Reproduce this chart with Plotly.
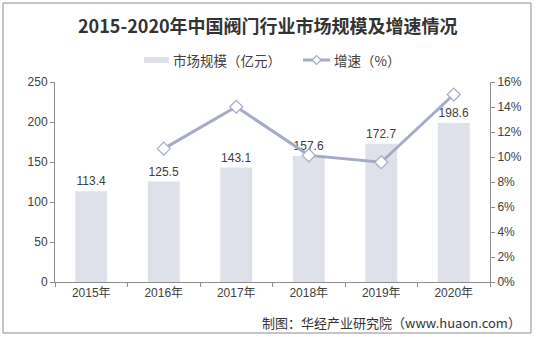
import plotly.graph_objects as go

years = ["2015年", "2016年", "2017年", "2018年", "2019年", "2020年"]
market = [113.4, 125.5, 143.1, 157.6, 172.7, 198.6]
growth_years = ["2016年", "2017年", "2018年", "2019年", "2020年"]
growth = [10.67, 14.02, 10.13, 9.58, 15.0]
y_ticks = [0, 50, 100, 150, 200, 250]
y2_ticks = [0, 2, 4, 6, 8, 10, 12, 14, 16]
y2_labels = [f"{v}%" for v in y2_ticks]

W, H = 536, 337
L, R, T, B = 55, 46, 82, 55
pw, ph = W - L - R, H - T - B

def px(x):
    return (x - L) / pw

def py(y):
    return (H - B - y) / ph

font_main = "Noto Sans CJK SC, Arial, sans-serif"
bar_color = "#DEE1EA"
line_color = "#A5ABC6"

fig = go.Figure()
fig.add_trace(go.Bar(
    x=years, y=market, name="市场规模（亿元）",
    marker=dict(color=bar_color, line=dict(width=0)),
    text=[f"{v:.1f}" for v in market], textposition="outside",
    textfont=dict(size=12, color="#404040", family="Arial, sans-serif"),
    cliponaxis=False,
))
fig.add_trace(go.Scatter(
    x=growth_years, y=growth, name="增速（%）", yaxis="y2",
    mode="lines+markers",
    line=dict(color=line_color, width=3),
    marker=dict(symbol="diamond", size=10, color="white",
                line=dict(color=line_color, width=1.2)),
    cliponaxis=False,
))

fig.update_layout(
    width=W, height=H,
    margin=dict(l=L, r=R, t=T, b=B),
    paper_bgcolor="white", plot_bgcolor="white",
    bargap=0.56,
    showlegend=False,
    xaxis=dict(showline=True, linecolor="#8C8C8C", linewidth=1,
               ticks="outside", ticklen=4, tickcolor="#8C8C8C",
               tickson="boundaries",
               tickfont=dict(size=12, color="#404040", family="Arial, " + font_main),
               showgrid=False, zeroline=False),
    yaxis=dict(range=[0, 250], tickvals=y_ticks, showline=True, linecolor="#8C8C8C",
               linewidth=1, ticks="outside", ticklen=4, tickcolor="#8C8C8C",
               tickfont=dict(size=12, color="#404040", family="Arial, sans-serif"),
               showgrid=False, zeroline=False),
    yaxis2=dict(range=[0, 16], tickvals=y2_ticks, ticktext=y2_labels, overlaying="y",
                side="right", showline=True, linecolor="#8C8C8C", linewidth=1,
                ticks="outside", ticklen=4, tickcolor="#8C8C8C",
                tickfont=dict(size=12, color="#404040", family="Arial, sans-serif"),
                showgrid=False, zeroline=False),
)

fig.add_annotation(text="<b>2015-2020年中国阀门行业市场规模及增速情况</b>",
                   xref="paper", yref="paper", x=px(268), y=py(25),
                   xanchor="center", yanchor="middle", showarrow=False,
                   font=dict(size=18, color="#333333", family=font_main))

# legend (manual)
fig.add_shape(type="rect", xref="paper", yref="paper",
              x0=px(144), x1=px(169), y0=py(57), y1=py(63),
              line=dict(width=0), fillcolor=bar_color)
fig.add_annotation(text="市场规模（亿元）", xref="paper", yref="paper",
                   x=px(171), y=py(60), xanchor="left", yanchor="middle",
                   showarrow=False, font=dict(size=13.5, color="#404040", family=font_main))
fig.add_shape(type="line", xref="paper", yref="paper",
              x0=px(303), x1=px(330), y0=py(60), y1=py(60),
              line=dict(color=line_color, width=3))
cx, cy, d = 316.5, 60, 4.5
diamond = (f"M {px(cx - d)} {py(cy)} L {px(cx)} {py(cy - d)} "
           f"L {px(cx + d)} {py(cy)} L {px(cx)} {py(cy + d)} Z")
fig.add_shape(type="path", xref="paper", yref="paper", path=diamond,
              fillcolor="white", line=dict(color=line_color, width=1.2))
fig.add_annotation(text="增速（%）", xref="paper", yref="paper",
                   x=px(332), y=py(60), xanchor="left", yanchor="middle",
                   showarrow=False, font=dict(size=13.5, color="#404040", family=font_main))

fig.add_annotation(text="制图：华经产业研究院（www.huaon.com）",
                   xref="paper", yref="paper", x=px(523), y=py(322),
                   xanchor="right", yanchor="middle", showarrow=False,
                   font=dict(size=13, color="#333333", family=font_main))
fig.add_shape(type="rect", xref="paper", yref="paper",
              x0=px(3), x1=px(531), y0=py(3), y1=py(333),
              line=dict(color="#8C8C8C", width=1), fillcolor="rgba(0,0,0,0)",
              layer="below")

fig.write_html("out.html")
